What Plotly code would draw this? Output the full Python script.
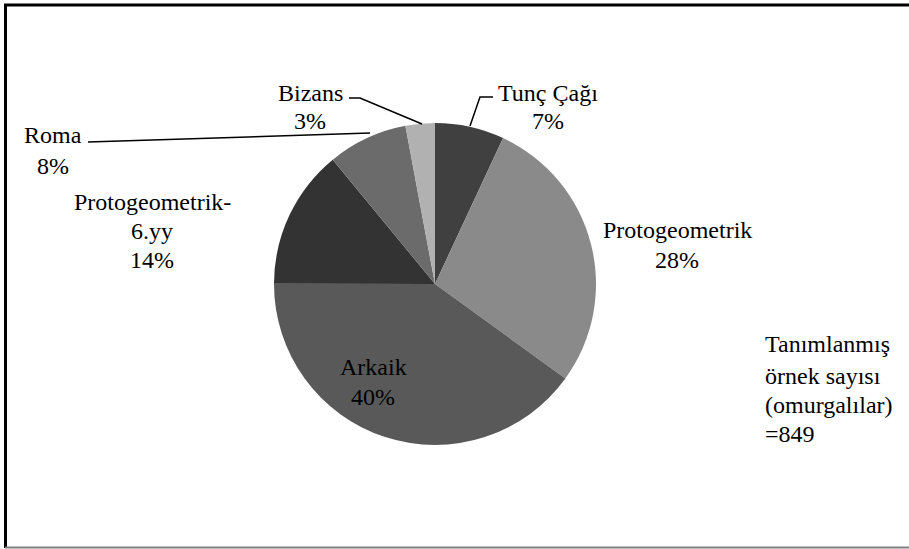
import plotly.graph_objects as go

W, H = 909, 549

# Data (counts; total = 849)
categories = ["Tunç Çağı", "Protogeometrik", "Arkaik", "Protogeometrik-6.yy", "Roma", "Bizans"]
label_lines = [["Tunç Çağı"], ["Protogeometrik"], ["Arkaik"], ["Protogeometrik-", "6.yy"], ["Roma"], ["Bizans"]]
counts = [59, 238, 340, 119, 68, 25]
colors = ["#404040", "#8a8a8a", "#595959", "#333333", "#6b6b6b", "#b1b1b1"]
note_lines = ["Tanımlanmış", "örnek sayısı", "(omurgalılar)", "=849"]

FONT = "Liberation Serif"
FS = 24


def px(x):
    return x / W


def py(y):
    return 1 - y / H


cx, cy, r = 435, 284, 161

fig = go.Figure(go.Pie(
    labels=categories,
    values=counts,
    sort=False,
    direction="clockwise",
    rotation=0,
    marker=dict(colors=colors, line=dict(width=0)),
    textinfo="none",
    hoverinfo="label+percent",
    showlegend=False,
    domain=dict(x=[px(cx - r), px(cx + r)], y=[py(cy + r), py(cy - r)]),
))

total = sum(counts)
pct = [f"{round(100 * c / total)}%" for c in counts]

# label layout: (center x, y of each line)
label_layout = [
    (548, [93, 121]),          # Tunç Çağı
    (677, [230, 260]),         # Protogeometrik
    (373, [367, 397]),         # Arkaik
    (152, [202, 231, 260]),    # Protogeometrik-6.yy
    (53, [135, 166]),          # Roma
    (310, [93, 121]),          # Bizans
]

annotations = []
for lines, p, (lx, ys) in zip(label_lines, pct, label_layout):
    for t, y in zip(lines + [p], ys):
        annotations.append(dict(
            x=px(lx), y=py(y), xref="paper", yref="paper",
            text=t, showarrow=False, align="center",
            xanchor="center", yanchor="middle",
            font=dict(family=FONT, size=FS, color="#000000"),
        ))

for t, y in zip(note_lines, [344, 376, 405, 434]):
    annotations.append(dict(
        x=px(763), y=py(y), xref="paper", yref="paper",
        text=t, showarrow=False, align="left",
        xanchor="left", yanchor="middle",
        font=dict(family=FONT, size=FS, color="#000000"),
    ))

shapes = []
leaders = [
    [(470, 126), (480, 97), (493, 97)],    # Tunç Çağı
    [(349, 98), (360, 98), (422, 124)],    # Bizans
    [(88, 142), (370, 133)],               # Roma
]
for pts in leaders:
    path = "M " + " L ".join(f"{px(x)},{py(y)}" for x, y in pts)
    shapes.append(dict(type="path", xref="paper", yref="paper", path=path,
                       line=dict(color="#000000", width=1.5)))

# frame
shapes.append(dict(type="line", xref="paper", yref="paper",
                   x0=px(4), x1=1, y0=py(5), y1=py(5),
                   line=dict(color="#000000", width=3)))
shapes.append(dict(type="line", xref="paper", yref="paper",
                   x0=px(5.5), x1=px(5.5), y0=py(4), y1=py(548),
                   line=dict(color="#000000", width=3)))
shapes.append(dict(type="line", xref="paper", yref="paper",
                   x0=px(5), x1=1, y0=py(547.5), y1=py(547.5),
                   line=dict(color="#808080", width=2)))

fig.update_layout(
    width=W, height=H,
    margin=dict(l=0, r=0, t=0, b=0),
    paper_bgcolor="#ffffff",
    plot_bgcolor="#ffffff",
    font=dict(family=FONT),
    annotations=annotations,
    shapes=shapes,
)

fig.write_html("out.html", config={"displayModeBar": False},
               post_script="document.body.style.margin='0';")
